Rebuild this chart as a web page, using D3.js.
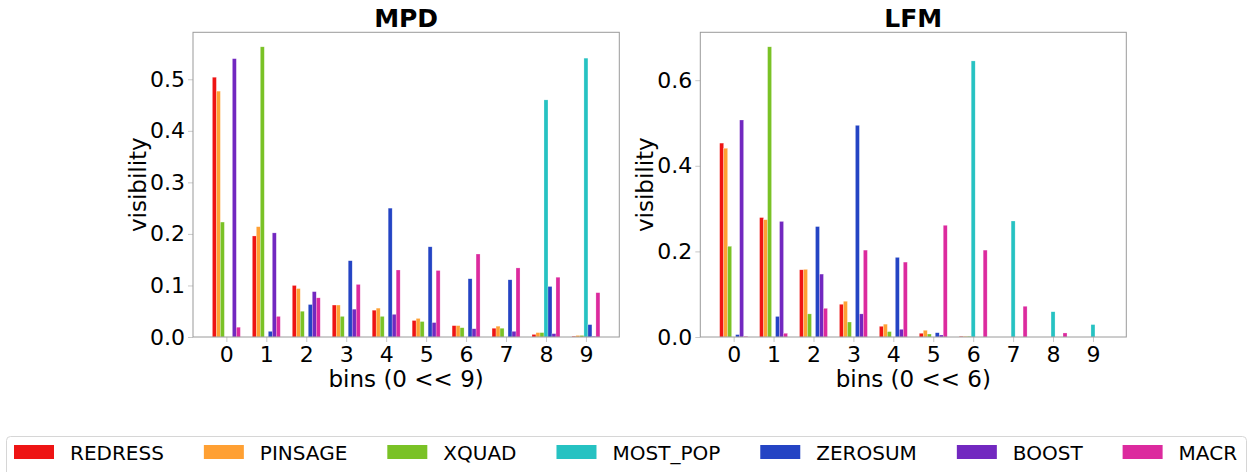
<!DOCTYPE html>
<html>
<head>
<meta charset="utf-8">
<script src="https://cdn.jsdelivr.net/npm/d3@7"></script>
<style>
  body { margin: 0; background: #fff; }
  svg { font-family: "DejaVu Sans", sans-serif; }
</style>
</head>
<body>
<div id="chart"></div>
<script>
var bins = [0, 1, 2, 3, 4, 5, 6, 7, 8, 9];
var methods = ["REDRESS", "PINSAGE", "XQUAD", "MOST_POP", "ZEROSUM", "BOOST", "MACR"];
var colors = ["#ee1414", "#ffa033", "#7ac226", "#26c2c2", "#2444c4", "#7228c0", "#dc2a9e"];

// MPD, one array per method, bins 0..9
var mpdRedress = [0.504, 0.196, 0.100, 0.062, 0.052, 0.032, 0.022, 0.017, 0.005, 0.0015];
var mpdPinsage = [0.477, 0.214, 0.094, 0.062, 0.056, 0.036, 0.022, 0.021, 0.0085, 0.003];
var mpdXquad = [0.223, 0.563, 0.050, 0.040, 0.040, 0.030, 0.018, 0.017, 0.0085, 0.003];
var mpdMostPop = [0, 0, 0, 0, 0, 0, 0, 0, 0.460, 0.541];
var mpdZerosum = [0, 0.011, 0.063, 0.148, 0.250, 0.175, 0.113, 0.111, 0.098, 0.024];
var mpdBoost = [0.540, 0.202, 0.088, 0.054, 0.044, 0.028, 0.016, 0.011, 0.0065, 0.0015];
var mpdMacr = [0.019, 0.040, 0.076, 0.102, 0.130, 0.129, 0.161, 0.134, 0.116, 0.086];

// LFM
var lfmRedress = [0.453, 0.279, 0.157, 0.0765, 0.025, 0.0087, 0.0016, 0, 0, 0];
var lfmPinsage = [0.441, 0.274, 0.158, 0.0835, 0.030, 0.0157, 0.0016, 0, 0, 0];
var lfmXquad = [0.212, 0.678, 0.054, 0.035, 0.0126, 0.007, 0.0016, 0, 0, 0];
var lfmMostPop = [0, 0, 0, 0, 0, 0, 0.645, 0.271, 0.059, 0.029];
var lfmZerosum = [0.0056, 0.048, 0.258, 0.4945, 0.186, 0.010, 0, 0, 0, 0];
var lfmBoost = [0.507, 0.270, 0.147, 0.054, 0.018, 0.0047, 0, 0, 0, 0];
var lfmMacr = [0.0016, 0.0087, 0.067, 0.203, 0.175, 0.261, 0.203, 0.0718, 0.0094, 0];

var mpdTicks = [0, 0.1, 0.2, 0.3, 0.4, 0.5];
var lfmTicks = [0, 0.2, 0.4, 0.6];

var mpdData = [mpdRedress, mpdPinsage, mpdXquad, mpdMostPop, mpdZerosum, mpdBoost, mpdMacr];
var lfmData = [lfmRedress, lfmPinsage, lfmXquad, lfmMostPop, lfmZerosum, lfmBoost, lfmMacr];

var svg = d3.select("#chart").append("svg")
  .attr("width", 1248)
  .attr("height", 472);

var barW = 0.1;

function drawPanel(title, xlabel, data, ticks, left, right) {
  var top = 32.3, bottom = 337;
  var maxV = d3.max(data, function (s) { return d3.max(s); });

  var x = d3.scaleLinear().domain([-0.835, 9.835]).range([left, right]);
  var y = d3.scaleLinear().domain([0, maxV * 1.05]).range([bottom, top]);

  var g = svg.append("g");

  // bars
  data.forEach(function (series, i) {
    g.selectAll(null)
      .data(series)
      .enter()
      .append("rect")
      .attr("x", function (d, j) { return x(bins[j] + (i - 3) * barW - barW / 2); })
      .attr("width", x(barW) - x(0))
      .attr("y", function (d) { return y(d); })
      .attr("height", function (d) { return bottom - y(d); })
      .attr("fill", colors[i])
      .attr("stroke", "rgba(255,255,255,0.5)")
      .attr("stroke-width", 0.5);
  });

  // axes
  var xAxis = g.append("g")
    .attr("transform", "translate(0," + bottom + ")")
    .call(d3.axisBottom(x).tickValues(bins).tickSize(5).tickPadding(4).tickFormat(d3.format("d")));
  var yAxis = g.append("g")
    .attr("transform", "translate(" + left + ",0)")
    .call(d3.axisLeft(y).tickValues(ticks).tickSize(5).tickPadding(3).tickFormat(d3.format(".1f")));

  [xAxis, yAxis].forEach(function (a) {
    a.select(".domain").remove();
    a.selectAll(".tick line").attr("stroke", "#c8c8c8");
    a.selectAll(".tick text").attr("font-size", 22).attr("fill", "#000")
      .attr("font-family", "DejaVu Sans");
  });

  // frame
  g.append("rect")
    .attr("x", left).attr("y", top)
    .attr("width", right - left).attr("height", bottom - top)
    .attr("fill", "none").attr("stroke", "#9a9a9a").attr("stroke-width", 1);

  g.append("text")
    .attr("x", (left + right) / 2).attr("y", 27)
    .attr("text-anchor", "middle")
    .attr("font-size", 25).attr("font-weight", "bold")
    .text(title);

  g.append("text")
    .attr("x", (left + right) / 2).attr("y", 387)
    .attr("text-anchor", "middle")
    .attr("font-size", 23)
    .text(xlabel);

  g.append("text")
    .attr("transform", "translate(" + (left - 47) + "," + ((top + bottom) / 2) + ") rotate(-90)")
    .attr("text-anchor", "middle")
    .attr("font-size", 23)
    .text("visibility");
}

drawPanel("MPD", "bins (0 << 9)", mpdData, mpdTicks, 193, 619.3);
drawPanel("LFM", "bins (0 << 6)", lfmData, lfmTicks, 700.3, 1126.3);

// legend
var leg = svg.append("g");
leg.append("rect")
  .attr("x", 6.5).attr("y", 436.5)
  .attr("width", 1240).attr("height", 50)
  .attr("rx", 4)
  .attr("fill", "#fff").attr("stroke", "#d6d6d6");

var lx = 14;
methods.forEach(function (m, i) {
  leg.append("rect")
    .attr("x", lx).attr("y", 445)
    .attr("width", 40).attr("height", 14)
    .attr("fill", colors[i]);
  var t = leg.append("text")
    .attr("x", lx + 56).attr("y", 459.5)
    .attr("font-size", 20)
    .text(m);
  lx = lx + 56 + t.node().getComputedTextLength() + 40;
});
</script>
</body>
</html>
